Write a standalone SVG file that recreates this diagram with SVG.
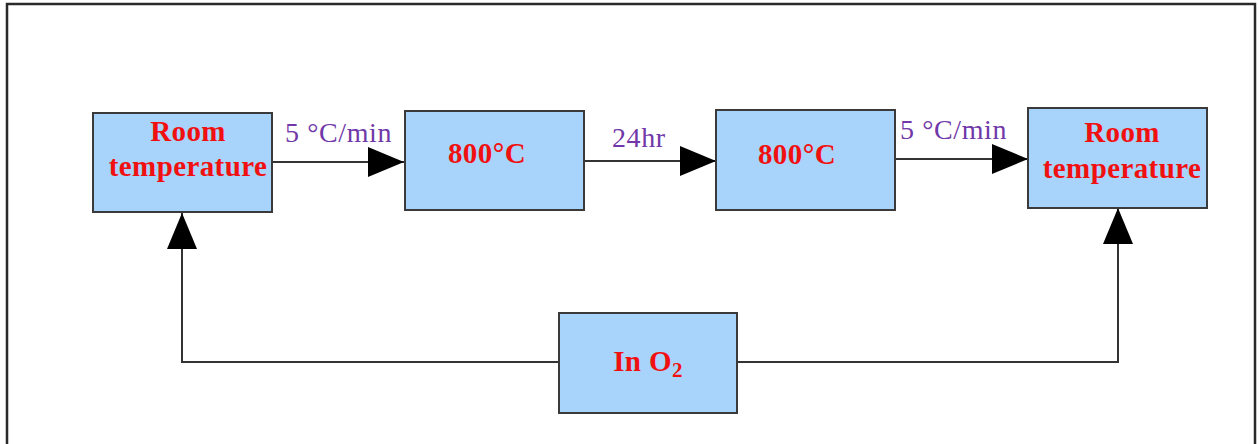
<svg xmlns="http://www.w3.org/2000/svg" width="1259" height="444" viewBox="0 0 1259 444">
<style>
.box{fill:#a8d3fb;stroke:#3a3a3a;stroke-width:2}
.t{font-family:"Liberation Serif",serif;font-weight:bold;font-size:29px;letter-spacing:0.4px;fill:#f01010;text-anchor:middle}
.lbl{font-family:"Liberation Serif",serif;font-size:28px;letter-spacing:0.6px;fill:#7038a8}
.c{fill:none;stroke:#333;stroke-width:2}
</style>
<defs>
<marker id="ah" markerUnits="userSpaceOnUse" markerWidth="38" markerHeight="32" refX="36" refY="15" orient="auto">
<path d="M0,0 L36,15 L0,30 Z" fill="#000"/>
</marker>
</defs>
<rect x="0" y="0" width="1259" height="444" fill="#fff"/>
<rect x="7" y="4" width="1248" height="460" fill="none" stroke="#2a2a2a" stroke-width="2.5"/>
<g id="connectors">
<path class="c" d="M273,162 L404,162" marker-end="url(#ah)"/>
<path class="c" d="M584,161 L716,161" marker-end="url(#ah)"/>
<path class="c" d="M895,159 L1028,159" marker-end="url(#ah)"/>
<path class="c" d="M559,362 L182,362 L182,213" marker-end="url(#ah)"/>
<path class="c" d="M737,362 L1118,362 L1118,208" marker-end="url(#ah)"/>
<text class="lbl" x="285" y="142">5 °C/min</text>
<text class="lbl" x="612" y="147">24hr</text>
<text class="lbl" x="900" y="139">5 °C/min</text>
</g>
<g id="room1">
<rect class="box" x="93" y="113" width="179" height="99"/>
<text class="t" x="188" y="141">Room</text>
<text class="t" x="188" y="176">temperature</text>
</g>
<g id="heat1">
<rect class="box" x="405" y="111" width="179" height="99"/>
<text class="t" x="487" y="163">800°C</text>
</g>
<g id="heat2">
<rect class="box" x="716" y="110" width="179" height="100"/>
<text class="t" x="797" y="164">800°C</text>
</g>
<g id="room2">
<rect class="box" x="1028" y="108" width="179" height="100"/>
<text class="t" x="1122" y="142">Room</text>
<text class="t" x="1122" y="178">temperature</text>
</g>
<g id="o2">
<rect class="box" x="559" y="313" width="178" height="100"/>
<text class="t" x="648" y="371">In O<tspan font-size="21" dy="6">2</tspan></text>
</g>
</svg>
